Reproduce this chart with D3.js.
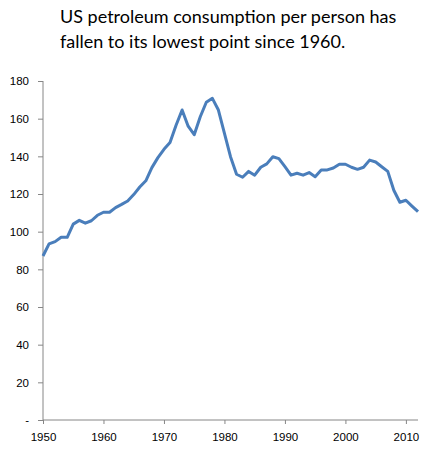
<!DOCTYPE html>
<html lang="en">
<head>
    <meta charset="UTF-8">
    <title>US petroleum consumption per person</title>
    <script src="https://d3js.org/d3.v7.min.js"></script>
    <style>
        body { margin: 0; background: #fff; }
        svg { display: block; font-family: Lato, "Open Sans", sans-serif; }
        .title { font-size: 18px; fill: #000; }
        .axis text { font-size: 11.5px; fill: #000; }
        .axis path, .axis line { stroke: #868686; }
    </style>
</head>
<body>
    <div id="chart"></div>

    <script>
        // Données : consommation par personne, 1950-2012
        const years = d3.range(1950, 2013);
        const values = [
            87.1, 93.5, 94.7, 97.0, 97.0, 104.0, 106.0, 104.5, 105.8, 108.7,
            110.3, 110.3, 112.8, 114.5, 116.3, 119.7, 123.7, 127.0, 134.0, 139.3,
            143.7, 147.3, 156.5, 164.6, 156.0, 151.5, 161.0, 168.7, 170.8, 164.6,
            152.2, 139.8, 130.5, 128.9, 132.0, 130.0, 134.2, 136.0, 139.8, 138.8,
            134.5, 130.0, 131.0, 130.0, 131.4, 129.2, 132.8, 132.8, 133.8, 135.8,
            135.8, 134.2, 133.1, 134.2, 138.0, 137.0, 134.5, 132.0, 122.0, 115.6,
            116.7, 113.6, 110.6
        ];
        const yTicks = [0, 20, 40, 60, 80, 100, 120, 140, 160, 180];
        const xTicks = [1950, 1960, 1970, 1980, 1990, 2000, 2010];
        const titleLines = [
            "US petroleum consumption per person has",
            "fallen to its lowest point since 1960."
        ];

        const width = 443;
        const height = 452;
        const margin = {top: 81, right: 25, bottom: 32, left: 43};

        const svg = d3.select("#chart")
            .append("svg")
            .attr("width", width)
            .attr("height", height);

        const x = d3.scaleLinear()
            .domain([1950, 2012])
            .range([margin.left, width - margin.right]);

        const y = d3.scaleLinear()
            .domain([0, 180])
            .range([height - margin.bottom, margin.top]);

        // Titre sur deux lignes
        svg.append("text")
            .attr("class", "title")
            .selectAll("tspan")
            .data(titleLines)
            .enter()
            .append("tspan")
            .attr("x", 60)
            .attr("y", (d, i) => 23 + i * 25)
            .text(d => d);

        // Axe Y (zéro affiché comme "-")
        svg.append("g")
            .attr("class", "axis")
            .attr("transform", `translate(${margin.left},0)`)
            .call(d3.axisLeft(y)
                .tickValues(yTicks)
                .tickSize(5)
                .tickPadding(9)
                .tickFormat(d => d === 0 ? "-" : d))
            .call(g => g.select(".domain").attr("d", `M0,${y(0)}V${y(180)}`));

        // Axe X
        svg.append("g")
            .attr("class", "axis")
            .attr("transform", `translate(0,${y(0)})`)
            .call(d3.axisBottom(x)
                .tickValues(xTicks)
                .tickSize(4)
                .tickPadding(9)
                .tickFormat(d3.format("d")))
            .call(g => g.select(".domain").attr("d", `M${x(1950)},0H${x(2012)}`));

        // Courbe
        const line = d3.line()
            .x((d, i) => x(years[i]))
            .y(d => y(d));

        svg.append("path")
            .datum(values)
            .attr("fill", "none")
            .attr("stroke", "#4a7ebb")
            .attr("stroke-width", 3)
            .attr("stroke-linejoin", "round")
            .attr("d", line);
    </script>
</body>
</html>
